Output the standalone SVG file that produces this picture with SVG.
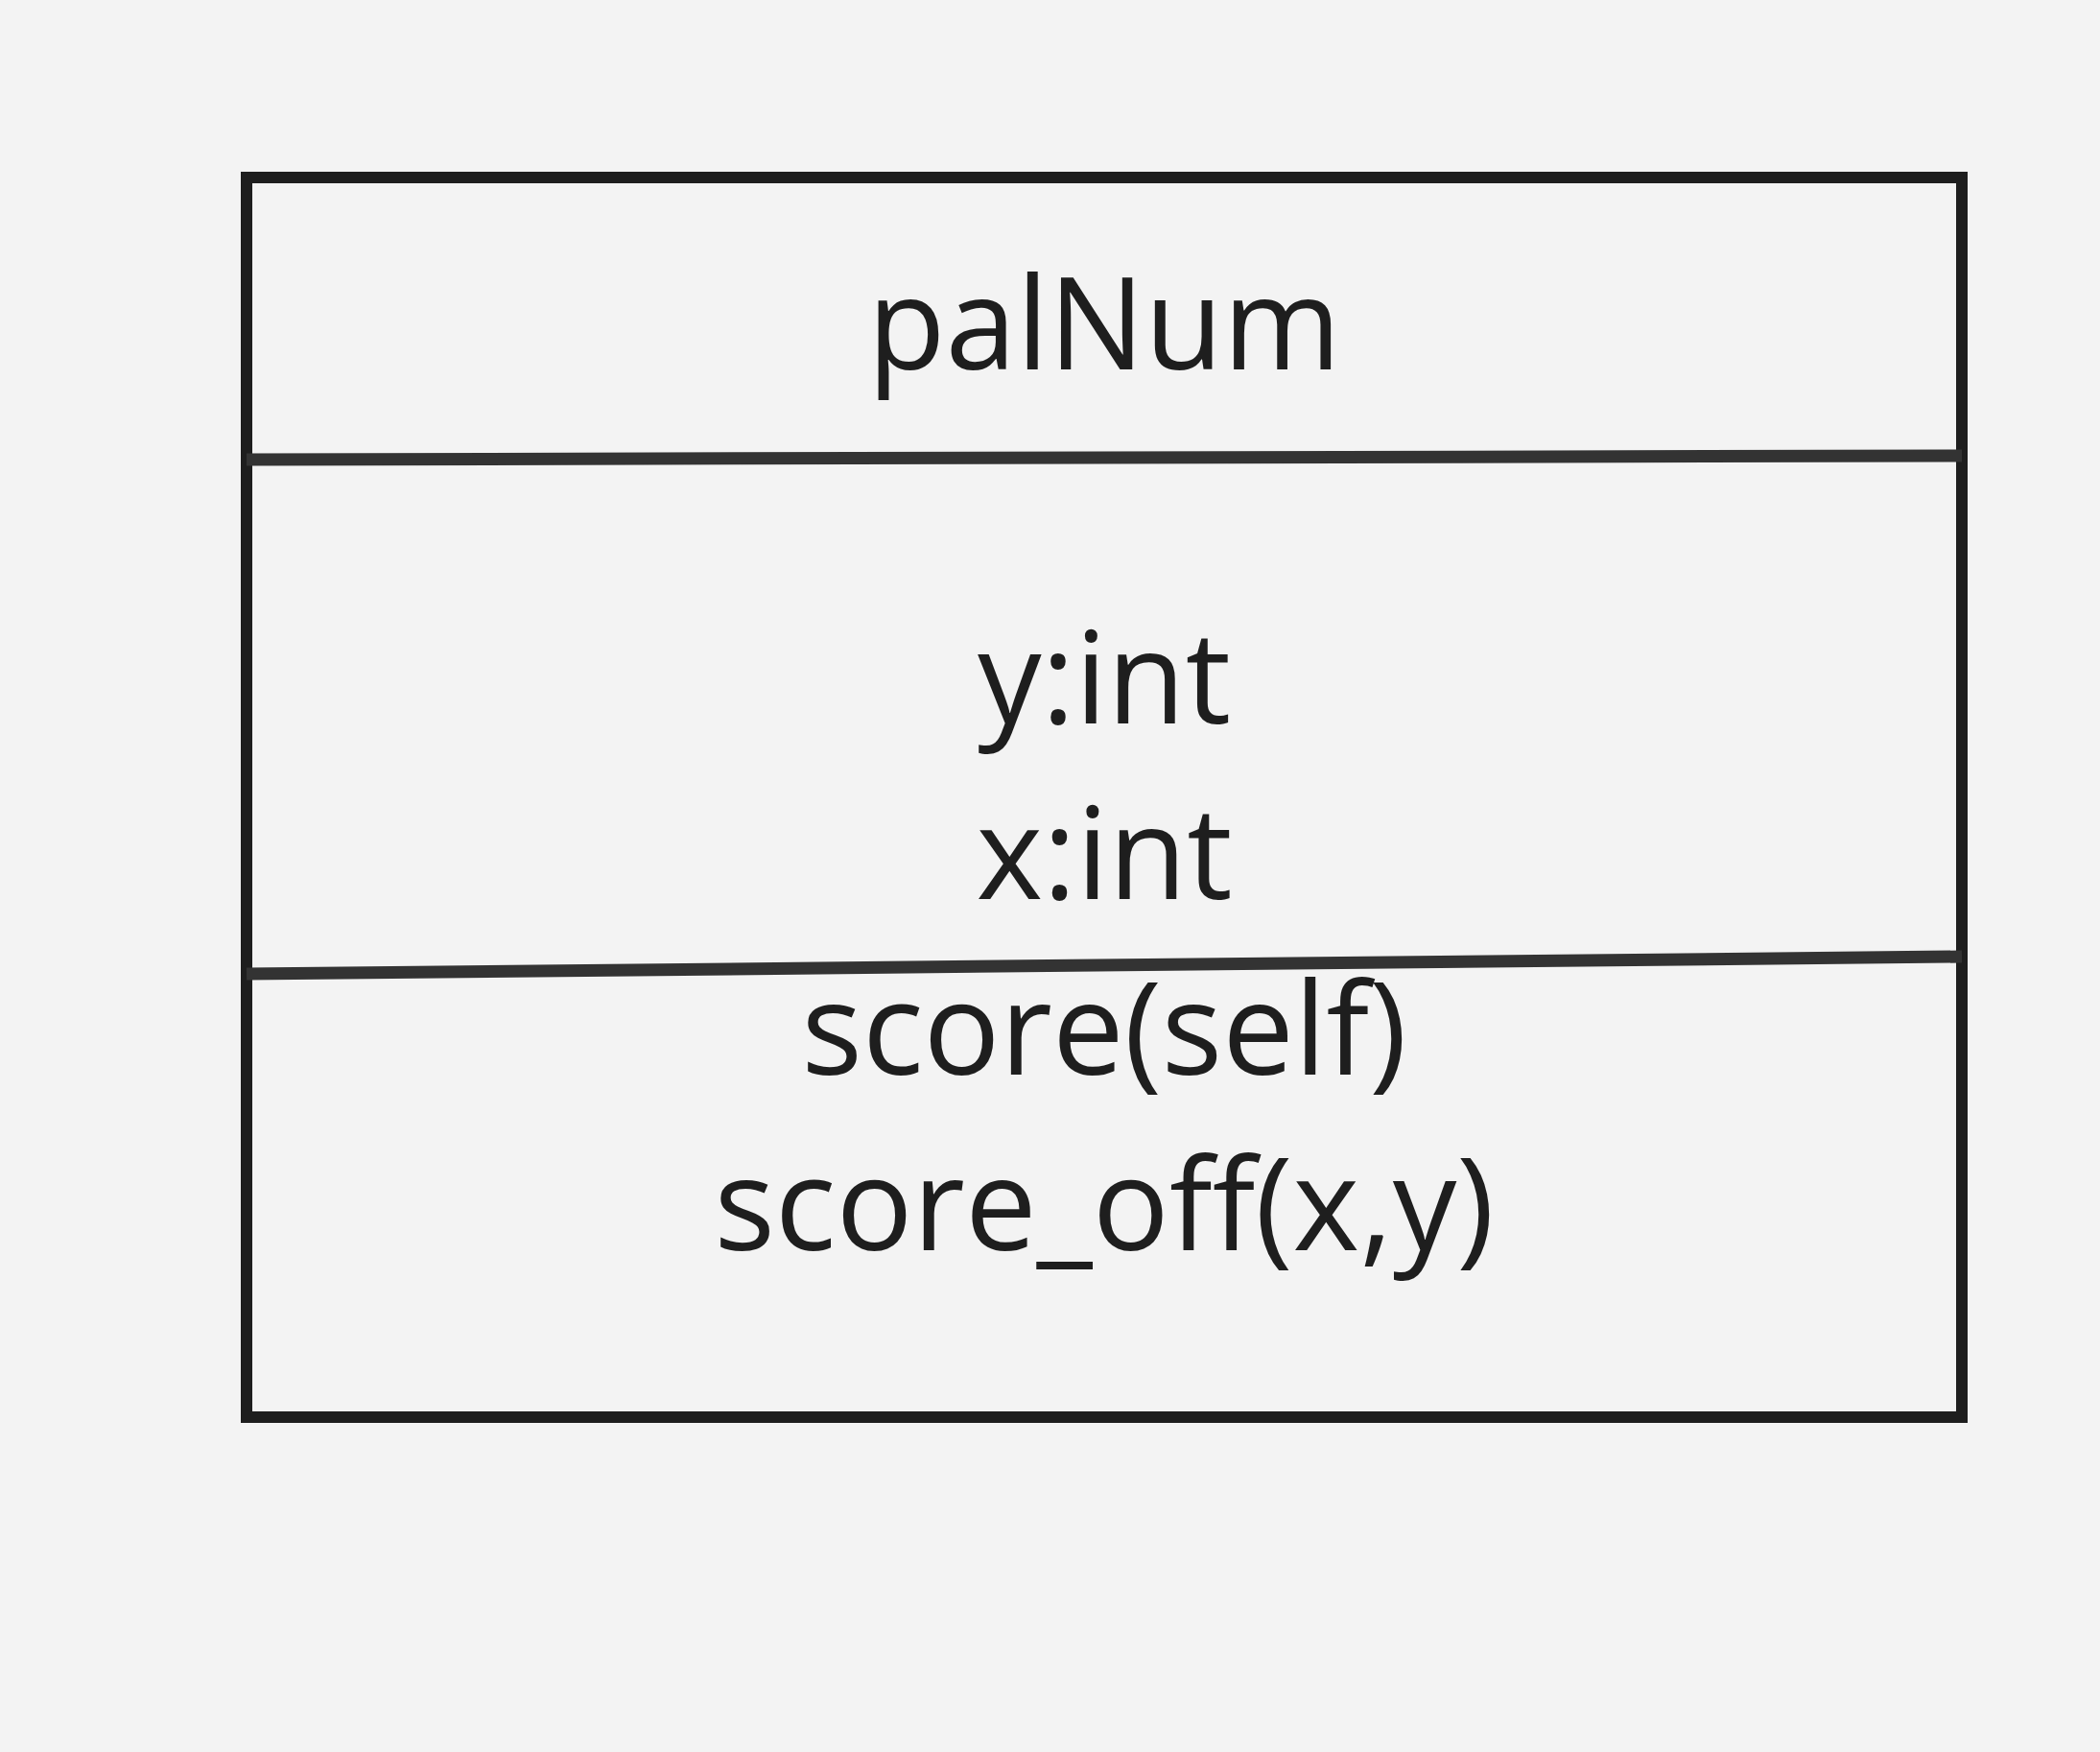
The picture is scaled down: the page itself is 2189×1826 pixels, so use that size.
<svg xmlns="http://www.w3.org/2000/svg" width="2189" height="1826" viewBox="0 0 2189 1826">
<style>
.t{font-family:"Open Sans","Liberation Sans",sans-serif;font-size:133px;fill:#1e1e1e;text-anchor:middle}
.div{stroke:#333333;stroke-width:13;fill:none}
</style>
<rect width="2189" height="1826" fill="#f3f3f3"/>
<g id="palNum">
<rect x="257" y="185" width="1788" height="1292" fill="none" stroke="#1e1e1e" stroke-width="12"/>
<line class="div" x1="257" y1="479" x2="2045" y2="475"/>
<line class="div" x1="257" y1="1015" x2="2045" y2="997"/>
<text class="t" x="1151" y="385">palNum</text>
<text class="t" x="1151" y="754">y:int</text>
<text class="t" x="1151" y="937">x:int</text>
<text class="t" x="1151" y="1120">score(self)</text>
<text class="t" x="1151" y="1303">score_off(x,y)</text>
</g>
<g id="connectors"/>
</svg>
